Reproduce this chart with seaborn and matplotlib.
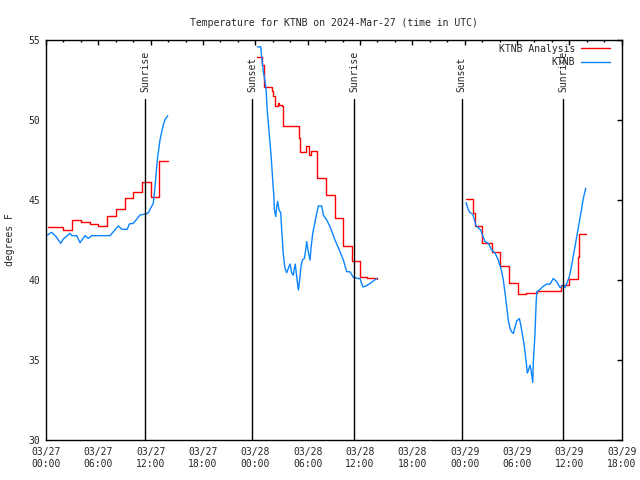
import numpy as np
import pandas as pd
import matplotlib
matplotlib.use('Agg')
import matplotlib.pyplot as plt
import matplotlib.dates as mdates
import matplotlib.transforms as mtransforms
from matplotlib.lines import Line2D
import seaborn as sns

# hours after 2024-03-27 00:00 UTC
# KTNB Analysis (hourly analysis, drawn as steps)
ana_seg1_h = [0.25, 2, 3, 4, 5, 6, 7, 8, 9, 10, 11, 12, 13, 13.95]
ana_seg1_t = [43.33, 43.1, 43.75, 43.6, 43.5, 43.4, 44.0, 44.44, 45.1, 45.5, 46.1, 45.17, 47.44, 47.44]
ana_seg2_h = [24.23, 24.8, 24.95, 25.95, 26.06, 26.26, 26.56, 26.75, 27.02, 27.13, 29.0, 29.12,
              29.77, 30.15, 30.38, 31.03, 32.07, 33.17, 34.01, 35.08, 36.04, 36.84, 37.53, 37.92]
ana_seg2_t = [53.92, 53.44, 52.04, 51.77, 51.46, 50.83, 51.04, 50.94, 50.83, 49.62, 48.85, 47.98,
              48.33, 47.81, 48.06, 46.35, 45.3, 43.85, 42.12, 41.19, 40.2, 40.13, 40.1, 40.06]
ana_seg3_h = [48.15, 48.99, 49.15, 50.03, 51.1, 52.05, 53.08, 54.12, 55.03, 56.26, 59.05, 60.0,
              61.0, 61.15, 61.88]
ana_seg3_t = [45.04, 44.17, 43.38, 42.33, 41.77, 40.88, 39.83, 39.12, 39.21, 39.31, 39.69, 40.04,
              41.42, 42.88, 42.88]

# KTNB observations
obs_seg1_h = [0.15, 0.65, 1.15, 1.69, 1.98, 2.75, 2.95, 3.52, 3.9, 4.47, 4.85, 5.24, 7.34, 8.29,
              8.68, 9.32, 9.55, 10.01, 10.78, 11.47, 11.73, 12.3, 12.5, 12.76, 13.07, 13.45, 13.64, 13.95]
obs_seg1_t = [42.81, 42.98, 42.71, 42.29, 42.56, 42.92, 42.77, 42.77, 42.33, 42.77, 42.6, 42.77, 42.77, 43.38,
              43.17, 43.17, 43.5, 43.54, 44.06, 44.12, 44.2, 44.79, 45.83, 47.5, 48.75, 49.69, 50.0, 50.25]
obs_seg2_h = [24.23, 24.62, 24.73, 24.91, 25.11, 25.22, 25.37, 25.6, 25.8, 25.95, 26.11, 26.18, 26.34,
              26.45, 26.56, 26.71, 26.91, 27.02, 27.21, 27.4, 27.6, 27.78, 27.97, 28.17, 28.35, 28.47,
              28.58, 28.74, 28.93, 29.12, 29.24, 29.39, 29.62, 29.77, 29.89, 30.07, 30.27, 30.38, 30.58,
              30.73, 30.96, 31.22, 31.61, 31.79, 32.18, 32.56, 33.13, 33.71, 34.09, 34.48, 34.85, 35.23,
              35.81, 36.0, 36.31, 36.57, 37.15, 37.53, 37.92]
obs_seg2_t = [54.54, 54.54, 53.85, 53.02, 52.4, 51.98, 50.52, 49.06, 47.8, 46.56, 45.3, 44.38, 43.96,
              44.58, 44.9, 44.38, 44.2, 43.12, 41.56, 40.73, 40.46, 40.73, 41.0, 40.46, 40.31, 40.73,
              41.0, 40.21, 39.38, 40.21, 40.88, 41.25, 41.35, 41.88, 42.4, 41.77, 41.25, 41.98, 42.92,
              43.33, 43.96, 44.62, 44.62, 44.06, 43.75, 43.33, 42.5, 41.77, 41.25, 40.52, 40.52, 40.17,
              40.1, 40.1, 39.58, 39.6, 39.79, 39.95, 40.1]
obs_seg3_h = [48.15, 48.42, 48.61, 48.92, 49.07, 49.3, 49.57, 49.84, 50.03, 50.33, 50.71, 51.1, 51.48,
              51.86, 52.25, 52.43, 52.63, 52.82, 53.0, 53.2, 53.39, 53.58, 53.77, 53.97, 54.27, 54.43,
              54.66, 54.8, 55.03, 55.18, 55.3, 55.49, 55.61, 55.8, 55.87, 56.06, 56.18, 56.26, 56.64,
              57.02, 57.4, 57.78, 58.16, 58.55, 58.93, 59.31, 59.5, 59.7, 60.0, 60.27, 60.54, 60.85,
              61.11, 61.42, 61.6, 61.88]
obs_seg3_t = [44.83, 44.38, 44.21, 44.1, 43.85, 43.38, 43.25, 43.12, 42.81, 42.4, 42.29, 41.88, 41.67,
              41.25, 40.52, 40.0, 39.17, 38.33, 37.5, 36.98, 36.77, 36.67, 37.08, 37.46, 37.6, 37.2,
              36.46, 36.04, 35.0, 34.21, 34.38, 34.69, 34.4, 33.62, 34.9, 36.67, 38.44, 39.27, 39.42,
              39.62, 39.75, 39.75, 40.1, 39.9, 39.54, 39.69, 39.54, 39.79, 40.21, 40.94, 41.77, 42.71,
              43.54, 44.48, 45.1, 45.73]

# sunrise / sunset times (hours after start)
sun_h = [11.35, 23.65, 35.33, 47.67, 59.3]
sun_labels = ['Sunrise', 'Sunset', 'Sunrise', 'Sunset', 'Sunrise']

base = pd.Timestamp('2024-03-27 00:00')


def to_frame(segments):
    rows = []
    for i, (hh, tt) in enumerate(segments):
        for h, t in zip(hh, tt):
            rows.append({'time': base + pd.Timedelta(hours=h), 'temp': t, 'seg': i})
    return pd.DataFrame(rows)


ana = to_frame([(ana_seg1_h, ana_seg1_t), (ana_seg2_h, ana_seg2_t), (ana_seg3_h, ana_seg3_t)])
obs = to_frame([(obs_seg1_h, obs_seg1_t), (obs_seg2_h, obs_seg2_t), (obs_seg3_h, obs_seg3_t)])

red = '#ff0000'
blue = '#0a84ff'

sns.set_style('white')
plt.rcParams['font.family'] = ['DejaVu Sans Mono']
plt.rcParams['font.size'] = 7

fig, ax = plt.subplots(figsize=(6.4, 4.8), dpi=100)
fig.subplots_adjust(left=0.0719, right=0.9714, top=0.9177, bottom=0.0823)

sns.lineplot(data=ana, x='time', y='temp', units='seg', estimator=None, sort=False,
             color=red, lw=1.0, drawstyle='steps-post', ax=ax)
sns.lineplot(data=obs, x='time', y='temp', units='seg', estimator=None, sort=False,
             color=blue, lw=1.0, ax=ax)

# sunrise / sunset markers
trans = mtransforms.blended_transform_factory(ax.transData, ax.transAxes)
for h, lab in zip(sun_h, sun_labels):
    t = base + pd.Timedelta(hours=h)
    ax.axvline(t, ymin=0, ymax=0.852, color='black', lw=1.0)
    ax.text(t, 0.87, lab, rotation=90, ha='center', va='bottom', transform=trans, fontsize=7)

ax.set_xlim(base, base + pd.Timedelta(hours=66))
ax.set_ylim(30, 55)
ax.set_yticks([30, 35, 40, 45, 50, 55])
ax.xaxis.set_major_locator(mdates.HourLocator(byhour=[0, 6, 12, 18]))
ax.xaxis.set_minor_locator(mdates.HourLocator(interval=2))
ax.xaxis.set_major_formatter(mdates.DateFormatter('%m/%d\n%H:%M'))

ax.tick_params(which='both', direction='in', top=True, right=True, color='black', width=1.0)
ax.tick_params(which='major', length=3.4)
ax.tick_params(which='minor', length=1.7)
ax.tick_params(axis='x', which='major', pad=5)
ax.tick_params(axis='y', which='major', pad=4)
for s in ax.spines.values():
    s.set_color('black')
    s.set_linewidth(1.0)

ax.set_xlabel('')
ax.set_ylabel('degrees F')
ax.yaxis.set_label_coords(-0.054, 0.5)
ax.set_title('Temperature for KTNB on 2024-Mar-27 (time in UTC)', fontsize=7, pad=10)

handles = [Line2D([], [], color=red, lw=1.0), Line2D([], [], color=blue, lw=1.0)]
ax.legend(handles, ['KTNB Analysis', 'KTNB'], loc='upper right', frameon=False, markerfirst=False,
          bbox_to_anchor=(0.98, 0.99), borderaxespad=0, borderpad=0, handlelength=3.0,
          handletextpad=0.6, labelspacing=0.35, fontsize=7)

fig.savefig('out.png', dpi=100)
